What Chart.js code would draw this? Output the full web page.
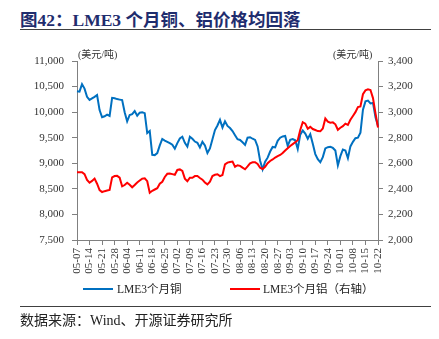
<!DOCTYPE html>
<html><head><meta charset="utf-8">
<script src="https://cdn.jsdelivr.net/npm/chart.js@4"></script>
<style>
html,body{margin:0;padding:0;background:#fff;width:439px;height:339px;overflow:hidden;}
body{position:relative;font-family:"Liberation Serif","Noto Sans CJK SC",serif;color:#222;}
#title{position:absolute;left:20px;top:6px;font-size:17.5px;font-weight:bold;color:#1f2d6e;white-space:nowrap;}
.hr{position:absolute;left:20px;width:411px;height:0;border-top:1.5px solid #404040;}
#chartbox{position:absolute;left:0;top:0;width:439px;height:285px;}
.unit{position:absolute;top:46px;font-size:10px;color:#333;white-space:nowrap;}
.lg-line{position:absolute;width:30px;height:2px;top:288px;}
.lg-text{position:absolute;top:280px;font-size:11.5px;color:#222;white-space:nowrap;}
#source{position:absolute;left:20px;top:309px;font-size:14px;color:#222;white-space:nowrap;}
</style></head>
<body>
<div id="title">图42：LME3 个月铜、铝价格均回落</div>
<div class="hr" style="top:29px"></div>
<div id="chartbox"><canvas id="c" width="439" height="285"></canvas></div>
<div class="unit" style="left:78px">(美元/吨)</div>
<div class="unit" style="left:333px">(美元/吨)</div>
<div class="lg-line" style="left:83px;background:#0070C0"></div>
<div class="lg-text" style="left:117px">LME3个月铜</div>
<div class="lg-line" style="left:230px;background:#FF0000"></div>
<div class="lg-text" style="left:263px">LME3个月铝（右轴）</div>
<div class="hr" style="top:306px"></div>
<div id="source">数据来源：Wind、开源证券研究所</div>
<script>
const tickLabels = ['05-07','05-14','05-21','05-28','06-04','06-11','06-18','06-25','07-02','07-09','07-16','07-23','07-30','08-06','08-13','08-20','08-27','09-03','09-10','09-17','09-24','10-01','10-08','10-15','10-22'];

const copper = [10410,10400,10545,10460,10300,10240,10270,10300,10335,10040,
9900,9920,9950,9925,10280,10270,10255,10245,10235,10000,
9820,9945,9960,10020,9930,9990,9997,9980,9590,9630,
9165,9160,9200,9350,9475,9445,9420,9395,9365,9285,
9395,9485,9520,9400,9325,9520,9480,9425,9400,9310,
9420,9350,9200,9290,9470,9650,9740,9850,9700,9820,
9730,9690,9630,9550,9470,9456,9410,9360,9500,9510,
9480,9456,9330,9050,8880,9030,9110,9230,9320,9310,
9440,9500,9525,9534,9340,9460,9475,9450,9280,9560,
9640,9580,9480,9570,9380,9180,9080,9020,9120,9290,
9315,9322,9300,9250,8960,9140,9270,9250,9100,9330,
9420,9490,9500,9600,10050,10210,10225,10170,10180,9900,
9730];

const aluminium = [2530,2530,2530,2515,2470,2448,2462,2480,2440,2390,
2375,2382,2387,2391,2490,2500,2502,2488,2420,2430,
2448,2432,2412,2430,2450,2465,2480,2483,2460,2370,
2385,2395,2405,2440,2455,2493,2518,2520,2515,2510,
2548,2552,2540,2480,2460,2487,2487,2500,2500,2485,
2472,2450,2435,2456,2500,2510,2514,2500,2508,2592,
2605,2610,2613,2573,2585,2580,2566,2553,2575,2600,
2608,2608,2595,2565,2555,2572,2600,2618,2630,2645,
2656,2665,2680,2700,2718,2735,2750,2765,2780,2860,
2921,2910,2870,2885,2868,2860,2852,2850,2872,2950,
2926,2918,2920,2905,2862,2878,2890,2910,2900,2940,
2970,3000,3040,3045,3140,3170,3178,3173,3110,2990,
2880];

// trading-day categories (weekdays) from 2021-05-07 to 2021-10-22
const categories = [];
{
  const d = new Date(Date.UTC(2021,4,7));
  const end = new Date(Date.UTC(2021,9,22));
  while (d <= end) {
    const wd = d.getUTCDay();
    if (wd !== 0 && wd !== 6) {
      categories.push(String(d.getUTCMonth()+1).padStart(2,'0') + '-' + String(d.getUTCDate()).padStart(2,'0'));
    }
    d.setUTCDate(d.getUTCDate()+1);
  }
}

const axisColor = '#808080';
const tickFont = {family:'"Liberation Serif", serif', size:11};

new Chart(document.getElementById('c'), {
  type: 'line',
  data: {
    labels: categories,
    datasets: [
      {label:'LME3个月铜', data: copper, yAxisID:'y', borderColor:'#0070C0', backgroundColor:'#0070C0', borderWidth:2, pointRadius:0, tension:0, order:2},
      {label:'LME3个月铝（右轴）', data: aluminium, yAxisID:'y1', borderColor:'#FF0000', backgroundColor:'#FF0000', borderWidth:2, pointRadius:0, tension:0, order:1}
    ]
  },
  options: {
    responsive:false, animation:false, devicePixelRatio:1,
    layout:{padding:{top:61,left:0,right:0,bottom:0}},
    plugins:{legend:{display:false}, tooltip:{enabled:false}},
    scales:{
      x:{
        offset:false,
        grid:{drawOnChartArea:false, tickLength:5, color:axisColor},
        border:{color:axisColor},
        ticks:{autoSkip:false, minRotation:90, maxRotation:90, padding:3, color:'#333', font:tickFont,
          callback:function(v){ const l=this.getLabelForValue(v); return tickLabels.includes(l)?l:null; }},
        afterFit:s=>{s.height=45;}
      },
      y:{
        position:'left', min:7500, max:11000,
        grid:{drawOnChartArea:false, tickLength:5, color:axisColor},
        border:{color:axisColor},
        ticks:{stepSize:500, padding:8, color:'#333', font:tickFont, callback:v=>v.toLocaleString('en-US')},
        afterFit:s=>{s.width=77;}
      },
      y1:{
        position:'right', min:2000, max:3400,
        grid:{drawOnChartArea:false, tickLength:5, color:axisColor},
        border:{color:axisColor},
        ticks:{stepSize:200, padding:5, color:'#333', font:tickFont, callback:v=>v.toLocaleString('en-US')},
        afterFit:s=>{s.width=61;}
      }
    }
  }
});
</script>
</body></html>
